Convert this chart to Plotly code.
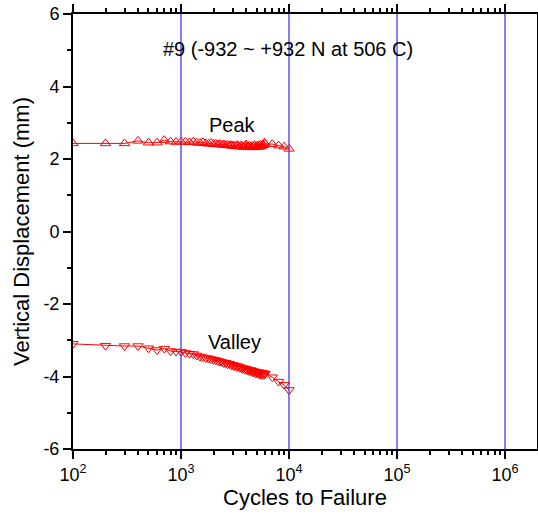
import plotly.graph_objects as go

# Cycle counts at which displacement was recorded
cycles = [100, 200, 300, 400, 500, 600, 700, 800, 900, 1000,
          1100, 1200, 1300, 1400, 1500, 1600, 1700, 1800, 1900, 2000,
          2100, 2200, 2300, 2400, 2500, 2600, 2700, 2800, 2900, 3000,
          3100, 3200, 3300, 3400, 3500, 3600, 3700, 3800, 3900, 4000,
          4100, 4200, 4300, 4400, 4500, 4600, 4700, 4800, 4900, 5000,
          5100, 5200, 5300, 5400, 5500, 5600, 5700, 5800, 5900, 6000,
          7000, 8000, 9000, 10000]

# Peak vertical displacement (mm)
peak = [2.43, 2.43, 2.43, 2.50, 2.45, 2.45, 2.52, 2.48, 2.47, 2.48,
        2.47, 2.46, 2.48, 2.45, 2.44, 2.46, 2.43, 2.42, 2.44, 2.41,
        2.42, 2.40, 2.41, 2.39, 2.40, 2.38, 2.39, 2.37, 2.38, 2.36,
        2.37, 2.35, 2.38, 2.36, 2.34, 2.37, 2.35, 2.33, 2.36, 2.40,
        2.35, 2.33, 2.37, 2.34, 2.32, 2.36, 2.34, 2.38, 2.33, 2.35,
        2.37, 2.33, 2.36, 2.39, 2.34, 2.37, 2.40, 2.38, 2.45, 2.42,
        2.41, 2.37, 2.34, 2.28]

# Valley vertical displacement (mm)
valley = [-3.10, -3.15, -3.16, -3.16, -3.22, -3.27, -3.23, -3.30, -3.31, -3.32,
          -3.35, -3.37, -3.38, -3.42, -3.45, -3.47, -3.49, -3.50, -3.52, -3.54,
          -3.55, -3.57, -3.59, -3.60, -3.63, -3.62, -3.66, -3.65, -3.69, -3.68,
          -3.71, -3.70, -3.74, -3.72, -3.76, -3.75, -3.79, -3.77, -3.81, -3.79,
          -3.83, -3.81, -3.85, -3.82, -3.87, -3.84, -3.89, -3.86, -3.91, -3.87,
          -3.92, -3.88, -3.94, -3.89, -3.95, -3.90, -3.96, -3.91, -3.95, -3.92,
          -4.02, -4.14, -4.23, -4.37]

x_major = [100, 1000, 10000, 100000, 1000000]
x_labels = ["10<sup>2</sup>", "10<sup>3</sup>", "10<sup>4</sup>",
            "10<sup>5</sup>", "10<sup>6</sup>"]
y_major = [-6, -4, -2, 0, 2, 4, 6]
y_labels = ["-6", "-4", "-2", "0", "2", "4", "6"]

FONT = "Liberation Sans, Arial, sans-serif"
RED = "#ff0000"
BLUE = "#0000ff"

fig = go.Figure()

# blue decade lines behind the data
for xv in x_major[1:]:
    fig.add_shape(type="line", xref="x", yref="paper", x0=xv, x1=xv,
                  y0=0, y1=1, layer="below",
                  line=dict(color=BLUE, width=1))

fig.add_trace(go.Scatter(
    x=cycles, y=peak, mode="lines+markers",
    line=dict(color=RED, width=1),
    marker=dict(symbol="triangle-up-open", size=9, color=RED,
                line=dict(width=1, color=RED)),
    name="Peak", showlegend=False))
fig.add_trace(go.Scatter(
    x=cycles, y=valley, mode="lines+markers",
    line=dict(color=RED, width=1),
    marker=dict(symbol="triangle-down-open", size=9, color=RED,
                line=dict(width=1, color=RED)),
    name="Valley", showlegend=False))

fig.add_annotation(x=3.987, y=5.03, text="#9 (-932 ~ +932 N at 506 C)",
                   showarrow=False, font=dict(family=FONT, size=20, color="black"))
fig.add_annotation(x=3.474, y=2.94, text="Peak", showarrow=False,
                   font=dict(family=FONT, size=20, color="black"))
fig.add_annotation(x=3.493, y=-3.04, text="Valley", showarrow=False,
                   font=dict(family=FONT, size=20, color="black"))

fig.update_xaxes(
    type="log", range=[2, 6.296], automargin=False,
    tickmode="array", tickvals=x_major, ticktext=x_labels,
    ticks="outside", ticklen=8, tickwidth=2, tickcolor="black",
    showline=True, linewidth=2, linecolor="black", mirror="ticks",
    showgrid=False, zeroline=False,
    minor=dict(dtick="D1", ticks="outside", ticklen=4,
               tickwidth=2, tickcolor="black", showgrid=False),
    tickfont=dict(family=FONT, size=18, color="black"),
    title=dict(text="Cycles to Failure", standoff=6,
               font=dict(family=FONT, size=22, color="black")),
)
fig.update_yaxes(
    range=[-6, 6], automargin=False,
    tickvals=y_major, ticktext=y_labels,
    ticks="outside", ticklen=8, tickwidth=2, tickcolor="black",
    showline=True, linewidth=2, linecolor="black", mirror="ticks",
    showgrid=False, zeroline=False,
    minor=dict(dtick=1, ticks="outside", ticklen=4, tickwidth=2,
               tickcolor="black", showgrid=False),
    tickfont=dict(family=FONT, size=18, color="black"),
    title=dict(text="Vertical Displacement (mm)", standoff=8,
               font=dict(family=FONT, size=22, color="black")),
)

fig.update_layout(
    width=538, height=522,
    margin=dict(l=73, r=1, t=14, b=73, autoexpand=False),
    paper_bgcolor="white", plot_bgcolor="white",
    font=dict(family=FONT, color="black"),
)

fig.write_html("out.html")
